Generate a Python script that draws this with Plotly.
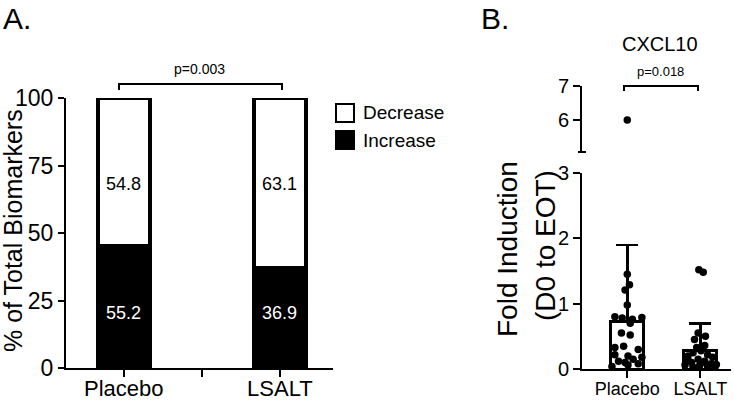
import plotly.graph_objects as go

W, H = 734, 400
FONT = "Liberation Sans, Arial, Helvetica, sans-serif"

# ---------------- Panel A data ----------------
groups_a = ["Placebo", "LSALT"]
increase_pct = [45.2, 36.9]
decrease_pct = [54.8, 63.1]
increase_labels = ["55.2", "36.9"]
decrease_labels = ["54.8", "63.1"]
a_yticks = [0, 25, 50, 75, 100]
p_value_a = "p=0.003"

# ---------------- Panel B data (CXCL10) ----------------
groups_b = ["Placebo", "LSALT"]
b_bar_mean = [0.72, 0.28]
b_err_up = [1.18, 0.42]
placebo_vals = [6.0, 1.45, 1.29, 1.21, 0.98, 0.80, 0.78, 0.76, 0.79, 0.70, 0.55, 0.52,
                0.35, 0.33, 0.30, 0.22, 0.20, 0.18, 0.12, 0.10, 0.08, 0.06, 0.04, 0.15]
placebo_jitter = [0.0, 0.0, 0.03, -0.03, 0.0, -0.17, -0.07, 0.07, 0.2, 0.04, -0.08, 0.04,
                  -0.05, -0.17, 0.15, -0.17, 0.01, 0.2, -0.12, -0.03, 0.15, 0.01, -0.21, 0.08]
lsalt_vals = [1.52, 1.48, 0.55, 0.50, 0.45, 0.36, 0.33, 0.28, 0.25, 0.22, 0.20, 0.18,
              0.15, 0.12, 0.10, 0.08, 0.06, 0.05, 0.04, 0.03, 0.02, 0.14, 0.09, 0.07]
lsalt_jitter = [-0.02, 0.04, -0.03, 0.07, -0.08, 0.06, -0.05, 0.01, -0.1, 0.1, -0.17, 0.17,
                -0.03, 0.06, -0.12, 0.15, -0.21, -0.01, 0.1, -0.1, 0.2, -0.17, 0.01, 0.22]
b_lower_ticks = [0, 1, 2, 3]
b_upper_ticks = [6, 7]
p_value_b = "p=0.018"


def px_x(p):
    return p / W


def px_y(p):
    return 1 - p / H


fig = go.Figure()

# Panel A stacked bars
fig.add_trace(go.Bar(x=[0, 1], y=increase_pct, name="Increase", width=0.33,
                     marker=dict(color="black", line=dict(color="black", width=4)),
                     xaxis="x", yaxis="y", showlegend=False))
fig.add_trace(go.Bar(x=[0, 1], y=decrease_pct, name="Decrease", width=0.33,
                     marker=dict(color="white", line=dict(color="black", width=4)),
                     xaxis="x", yaxis="y", showlegend=False))

# Panel B bars with error bars
fig.add_trace(go.Bar(x=[0, 1], y=b_bar_mean, width=0.45,
                     marker=dict(color="rgba(255,255,255,0)", line=dict(color="black", width=3)),
                     error_y=dict(type="data", symmetric=False, array=b_err_up, arrayminus=[0, 0],
                                  color="black", thickness=2.5, width=11),
                     xaxis="x2", yaxis="y2", showlegend=False))

px_placebo = [0 + j for j in placebo_jitter]
px_lsalt = [1 + j for j in lsalt_jitter]
for ya in ["y2", "y3"]:
    fig.add_trace(go.Scatter(x=px_placebo + px_lsalt, y=placebo_vals + lsalt_vals, mode="markers",
                             marker=dict(color="black", size=7.5),
                             xaxis="x2", yaxis=ya, showlegend=False))

axis_common = dict(showline=True, linecolor="black", linewidth=2, ticks="outside",
                   tickcolor="black", tickwidth=2, showgrid=False, zeroline=False,
                   fixedrange=True, mirror=False, automargin=False)

fig.update_layout(
    width=W, height=H,
    margin=dict(l=0, r=0, t=0, b=0, pad=0, autoexpand=False),
    paper_bgcolor="white", plot_bgcolor="rgba(0,0,0,0)",
    barmode="stack",
    font=dict(family=FONT, color="black"),
    xaxis=dict(domain=[px_x(66), px_x(333)], range=[-0.37, 1.34], tickvals=[0, 0.5, 1],
               ticktext=[groups_a[0], "", groups_a[1]], ticklen=7, anchor="y",
               ticklabelstandoff=-7, tickfont=dict(size=22), **axis_common),
    yaxis=dict(domain=[px_y(368), px_y(98)], range=[0, 100], tickvals=a_yticks, ticklen=6,
               anchor="x", tickfont=dict(size=23), **axis_common),
    xaxis2=dict(domain=[px_x(582), px_x(731)], range=[-0.62, 1.42], tickvals=[0, 1],
                ticktext=groups_b, ticklen=7, anchor="y2", ticklabelstandoff=-5,
                tickfont=dict(size=18), **axis_common),
    yaxis2=dict(domain=[px_y(369), px_y(173)], range=[0, 3], tickvals=b_lower_ticks, ticklen=7,
                anchor="x2", tickfont=dict(size=20), **axis_common),
    yaxis3=dict(domain=[px_y(152), px_y(86)], range=[5.06, 7], tickvals=b_upper_ticks, ticklen=7,
                anchor="x2", tickfont=dict(size=20), **axis_common),
)

shapes = []
# brackets
shapes.append(dict(type="path", xref="paper", yref="paper",
                   path=f"M {px_x(119)},{px_y(90)} L {px_x(119)},{px_y(84)} L {px_x(282)},{px_y(84)} L {px_x(282)},{px_y(90)}",
                   line=dict(color="black", width=2)))
shapes.append(dict(type="path", xref="paper", yref="paper",
                   path=f"M {px_x(624)},{px_y(91)} L {px_x(624)},{px_y(86)} L {px_x(698)},{px_y(86)} L {px_x(698)},{px_y(91)}",
                   line=dict(color="black", width=2)))
# axis break cap
shapes.append(dict(type="line", xref="paper", yref="paper", x0=px_x(578), x1=px_x(586),
                   y0=px_y(152), y1=px_y(152), line=dict(color="black", width=2)))
# legend boxes
shapes.append(dict(type="rect", xref="paper", yref="paper", x0=px_x(336), x1=px_x(354),
                   y0=px_y(122), y1=px_y(104), fillcolor="white", line=dict(color="black", width=2)))
shapes.append(dict(type="rect", xref="paper", yref="paper", x0=px_x(335), x1=px_x(355),
                   y0=px_y(150), y1=px_y(130), fillcolor="black", line=dict(color="black", width=0)))
fig.update_layout(shapes=shapes)

ann = []
# bar labels
for i in range(2):
    ann.append(dict(x=i, y=68, xref="x", yref="y", text=decrease_labels[i], showarrow=False,
                    font=dict(size=18, color="black")))
    ann.append(dict(x=i, y=20.5, xref="x", yref="y", text=increase_labels[i], showarrow=False,
                    font=dict(size=18, color="white")))


def pann(text, x, y, size, xanchor="center", angle=0):
    return dict(text=text, x=px_x(x), y=px_y(y), xref="paper", yref="paper", showarrow=False,
                xanchor=xanchor, yanchor="middle", textangle=angle, font=dict(size=size, color="black"))


ann += [
    pann("A.", 1, 18, 30, "left"),
    pann("B.", 479, 18, 30, "left"),
    pann(p_value_a, 199, 69, 14),
    pann(p_value_b, 660, 71, 13),
    pann("CXCL10", 660, 44, 20),
    pann("Decrease", 361, 112, 19, "left"),
    pann("Increase", 361, 140, 19, "left"),
    pann("% of Total Biomarkers", 13, 231, 25, angle=-90),
    pann("Fold Induction", 507, 249, 28, angle=-90),
    pann("(D0 to EOT)", 545, 246, 28, angle=-90),
]
fig.update_layout(annotations=ann)

fig.write_html("out.html", config={"displayModeBar": False},
               post_script="document.body.style.margin='0px';")
